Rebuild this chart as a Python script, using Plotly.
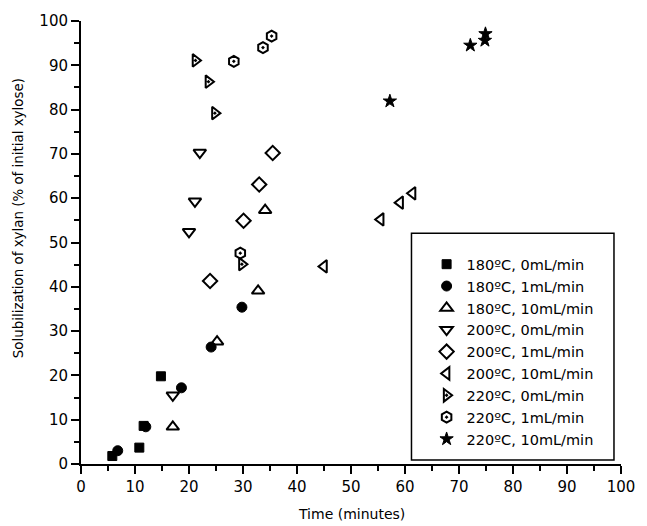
import plotly.graph_objects as go

# ---- data ----
labels = ["180ºC, 0mL/min", "180ºC, 1mL/min", "180ºC, 10mL/min",
          "200ºC, 0mL/min", "200ºC, 1mL/min", "200ºC, 10mL/min",
          "220ºC, 0mL/min", "220ºC, 1mL/min", "220ºC, 10mL/min"]

x_180_0 = [5.8, 10.8, 11.6, 14.8]
y_180_0 = [1.8, 3.7, 8.6, 19.8]
x_180_1 = [6.8, 12.0, 18.6, 24.1, 29.8]
y_180_1 = [3.0, 8.4, 17.2, 26.4, 35.4]
x_180_10 = [17.0, 25.2, 32.8, 34.1]
y_180_10 = [8.4, 27.6, 39.1, 57.3]
x_200_0 = [17.0, 20.0, 21.1, 22.0]
y_200_0 = [15.5, 52.4, 59.3, 70.3]
x_200_1 = [23.9, 30.1, 33.0, 35.5]
y_200_1 = [41.3, 54.9, 63.1, 70.2]
x_200_10 = [45.0, 55.5, 59.1, 61.4]
y_200_10 = [44.6, 55.2, 59.0, 61.1]
x_220_0 = [29.8, 24.8, 23.6, 21.2]
y_220_0 = [45.1, 79.2, 86.3, 91.1]
x_220_1 = [29.5, 28.3, 33.7, 35.3]
y_220_1 = [47.6, 90.9, 94.0, 96.6]
x_220_10 = [57.2, 72.1, 74.8, 74.9]
y_220_10 = [81.9, 94.5, 95.6, 97.1]

series_x = [x_180_0, x_180_1, x_180_10, x_200_0, x_200_1, x_200_10, x_220_0, x_220_1, x_220_10]
series_y = [y_180_0, y_180_1, y_180_10, y_200_0, y_200_1, y_200_10, y_220_0, y_220_1, y_220_10]

symbols = ["square", "circle", "triangle-up-open", "triangle-down-open", "diamond-open",
           "triangle-left-open", "triangle-right-open-dot", "hexagon-open-dot", "star"]
sizes = [9, 10, 11, 11, 11, 11, 11, 11, 10]
lwidths = [1, 1, 2, 2, 2, 2, 2, 2, 1]

FONT = "DejaVu Sans, Verdana, sans-serif"

fig = go.Figure()
for xs, ys, lab, sym, sz, lw in zip(series_x, series_y, labels, symbols, sizes, lwidths):
    fig.add_trace(go.Scatter(
        x=xs, y=ys, mode="markers", name=lab, cliponaxis=False,
        marker=dict(symbol=sym, size=sz, color="black",
                    line=dict(color="black", width=lw)),
    ))

axis_common = dict(
    showgrid=False, zeroline=False, showline=True, linecolor="black", linewidth=2,
    ticks="outside", ticklen=8, tickwidth=2, tickcolor="black",
    tickfont=dict(family=FONT, size=15, color="black"),
    range=[0, 100], dtick=10, tick0=0,
    minor=dict(ticks="outside", ticklen=5, tickwidth=2, tickcolor="black", dtick=5),
)

fig.update_layout(
    width=647, height=526,
    margin=dict(l=81, r=17, t=19, b=62),
    paper_bgcolor="white", plot_bgcolor="white",
    font=dict(family=FONT, color="black"),
    xaxis=dict(**axis_common),
    yaxis=dict(**axis_common),
    showlegend=True,
    legend=dict(
        x=0.640, y=0.487, xanchor="left", yanchor="top",
        bgcolor="rgba(0,0,0,0)", borderwidth=0,
        font=dict(family=FONT, size=14.5, color="black"),
        itemsizing="trace",
    ),
    shapes=[dict(type="rect", xref="paper", yref="paper",
                 x0=0.612, x1=0.987, y0=0.009, y1=0.521,
                 line=dict(color="black", width=1.5), fillcolor="rgba(0,0,0,0)")],
    annotations=[
        dict(text="Time (minutes)", xref="paper", yref="paper", x=0.5, y=-0.112,
             showarrow=False, xanchor="center", yanchor="middle",
             font=dict(family=FONT, size=14, color="black")),
        dict(text="Solubilization of xylan (% of initial xylose)", xref="paper", yref="paper",
             x=-0.1166, y=0.555, textangle=-90, showarrow=False,
             xanchor="center", yanchor="middle",
             font=dict(family=FONT, size=13.4, color="black")),
    ],
)

fig.write_html("out.html")
